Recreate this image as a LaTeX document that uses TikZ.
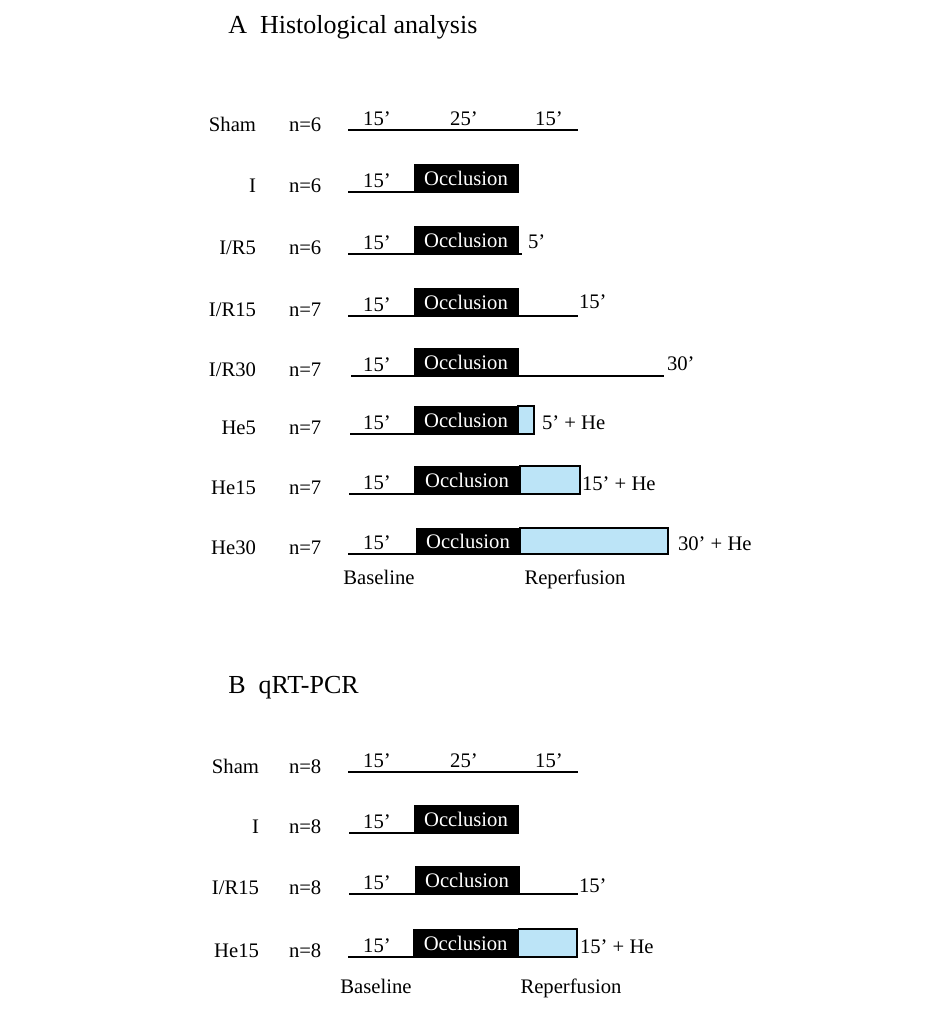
\documentclass[tikz,border=0pt]{standalone}
\usepackage{fontspec}
\setmainfont{Liberation Serif}
\definecolor{heblue}{RGB}{188,228,247}
\begin{document}
\begin{tikzpicture}[x=0.75pt,y=-0.75pt,
  txt/.style={font=\fontsize{15.5}{18}\selectfont, inner sep=0pt, outer sep=0pt},
  rowlbl/.style={txt, anchor=base east},
  nlbl/.style={txt, anchor=base west},
  dur/.style={txt, anchor=base},
  endlbl/.style={txt, anchor=base west},
  title/.style={font=\fontsize{19.5}{23}\selectfont, inner sep=0pt, anchor=base west},
  occ/.style={fill=black, draw=black, text=white, font=\fontsize{15.5}{18}\selectfont, inner sep=0pt, outer sep=0pt, minimum width=78pt, minimum height=21pt, anchor=south west},
  heb/.style={fill=heblue, draw=black, line width=0.8pt, inner sep=0pt, outer sep=0pt, minimum height=21pt, anchor=south west},
  tl/.style={line width=1pt}
]
\useasboundingbox (0,0) rectangle (937,1017);

% ===== A =====
\node[title] (tA) at (228,33) {A\hspace{0.5em}Histological analysis};

% Sham
\node[rowlbl] (sA) at (256,131) {Sham};
\node[nlbl] (nsA) at (289,131) {n=6};
\coordinate (sA0) at (348,130); \coordinate (sA1) at (578,130);
\draw[tl] (sA0) -- (sA1);
\node[dur] (sAd1) at (377,125) {15’};
\node[dur] (sAd2) at (464,125) {25’};
\node[dur] (sAd3) at (549,125) {15’};

% I
\node[rowlbl] (iA) at (256,192) {I};
\node[nlbl] (niA) at (289,192) {n=6};
\node[occ] (oiA) at (414,192) {Occlusion};
\coordinate (iA0) at (348,192);
\draw[tl] (iA0) -- (oiA.south west);
\node[dur] (iAd) at (377,187) {15’};

% I/R5
\node[rowlbl] (r5A) at (256,254) {I/R5};
\node[nlbl] (nr5A) at (289,254) {n=6};
\node[occ] (or5A) at (414,254) {Occlusion};
\coordinate (r5A0) at (348,254); \coordinate (r5A1) at (522,254);
\draw[tl] (r5A0) -- (or5A.south west);
\draw[tl] (or5A.south east) -- (r5A1);
\node[dur] (r5Ad) at (377,249) {15’};
\node[endlbl] (r5Ae) at (528,248) {5’};

% I/R15
\node[rowlbl] (r15A) at (256,316) {I/R15};
\node[nlbl] (nr15A) at (289,316) {n=7};
\node[occ] (or15A) at (414,316) {Occlusion};
\coordinate (r15A0) at (348,316); \coordinate (r15A1) at (578,316);
\draw[tl] (r15A0) -- (or15A.south west);
\draw[tl] (or15A.south east) -- (r15A1);
\node[dur] (r15Ad) at (377,311) {15’};
\node[endlbl] (r15Ae) at (579,308) {15’};

% I/R30
\node[rowlbl] (r30A) at (256,376) {I/R30};
\node[nlbl] (nr30A) at (289,376) {n=7};
\node[occ] (or30A) at (414,376) {Occlusion};
\coordinate (r30A0) at (351,376); \coordinate (r30A1) at (664,376);
\draw[tl] (r30A0) -- (or30A.south west);
\draw[tl] (or30A.south east) -- (r30A1);
\node[dur] (r30Ad) at (377,371) {15’};
\node[endlbl] (r30Ae) at (667,370) {30’};

% He5
\node[rowlbl] (h5A) at (256,434) {He5};
\node[nlbl] (nh5A) at (289,434) {n=7};
\node[occ] (oh5A) at (414,434) {Occlusion};
\node[heb, minimum width=12pt] (bh5A) at (oh5A.south east) {};
\coordinate (h5A0) at (350,434);
\draw[tl] (h5A0) -- (oh5A.south west);
\node[dur] (h5Ad) at (377,429) {15’};
\node[endlbl] (h5Ae) at (542,429) {5’ + He};

% He15
\node[rowlbl] (h15A) at (256,494) {He15};
\node[nlbl] (nh15A) at (289,494) {n=7};
\node[occ, minimum width=79.5pt] (oh15A) at (414,494) {Occlusion};
\node[heb, minimum width=45pt] (bh15A) at (oh15A.south east) {};
\coordinate (h15A0) at (349,494);
\draw[tl] (h15A0) -- (oh15A.south west);
\node[dur] (h15Ad) at (377,489) {15’};
\node[endlbl] (h15Ae) at (582,490) {15’ + He};

% He30
\node[rowlbl] (h30A) at (256,554) {He30};
\node[nlbl] (nh30A) at (289,554) {n=7};
\node[occ, minimum width=78pt, minimum height=19.5pt] (oh30A) at (416,554) {Occlusion};
\node[heb, minimum width=111pt, minimum height=19.5pt] (bh30A) at (oh30A.south east) {};
\coordinate (h30A0) at (348,554);
\draw[tl] (h30A0) -- (oh30A.south west);
\node[dur] (h30Ad) at (377,549) {15’};
\node[endlbl] (h30Ae) at (678,550) {30’ + He};

\node[dur] (blA) at (379,584) {Baseline};
\node[dur] (rpA) at (575,584) {Reperfusion};

% ===== B =====
\node[title] (tB) at (228,693) {B\hspace{0.5em}qRT-PCR};

% Sham
\node[rowlbl] (sB) at (259,773) {Sham};
\node[nlbl] (nsB) at (289,773) {n=8};
\coordinate (sB0) at (348,772); \coordinate (sB1) at (578,772);
\draw[tl] (sB0) -- (sB1);
\node[dur] (sBd1) at (377,767) {15’};
\node[dur] (sBd2) at (464,767) {25’};
\node[dur] (sBd3) at (549,767) {15’};

% I
\node[rowlbl] (iB) at (259,833) {I};
\node[nlbl] (niB) at (289,833) {n=8};
\node[occ] (oiB) at (414,833) {Occlusion};
\coordinate (iB0) at (349,833);
\draw[tl] (iB0) -- (oiB.south west);
\node[dur] (iBd) at (377,828) {15’};

% I/R15
\node[rowlbl] (r15B) at (259,894) {I/R15};
\node[nlbl] (nr15B) at (289,894) {n=8};
\node[occ] (or15B) at (415,894) {Occlusion};
\coordinate (r15B0) at (349,894); \coordinate (r15B1) at (578,894);
\draw[tl] (r15B0) -- (or15B.south west);
\draw[tl] (or15B.south east) -- (r15B1);
\node[dur] (r15Bd) at (377,889) {15’};
\node[endlbl] (r15Be) at (579,892) {15’};

% He15
\node[rowlbl] (h15B) at (259,957) {He15};
\node[nlbl] (nh15B) at (289,957) {n=8};
\node[occ, minimum width=79pt] (oh15B) at (413,957) {Occlusion};
\node[heb, minimum width=44pt] (bh15B) at (oh15B.south east) {};
\coordinate (h15B0) at (348,957);
\draw[tl] (h15B0) -- (oh15B.south west);
\node[dur] (h15Bd) at (377,952) {15’};
\node[endlbl] (h15Be) at (580,953) {15’ + He};

\node[dur] (blB) at (376,993) {Baseline};
\node[dur] (rpB) at (571,993) {Reperfusion};
\end{tikzpicture}
\end{document}
